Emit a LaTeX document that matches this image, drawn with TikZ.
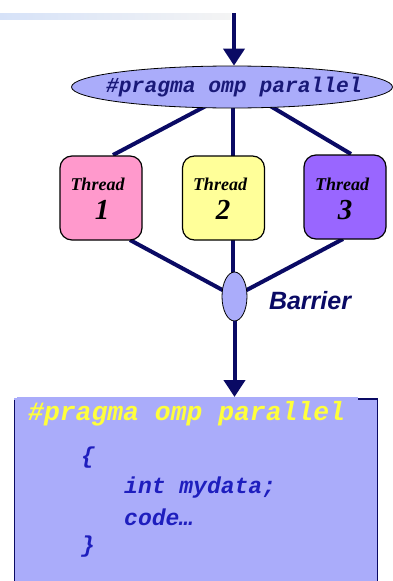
\documentclass[tikz,border=0pt]{standalone}
\usepackage{fontspec}
\setmainfont{Liberation Serif}
\newfontfamily\codefont{Liberation Mono}
\newfontfamily\labelfont{Liberation Sans}
\usetikzlibrary{shapes.geometric,arrows.meta,backgrounds}
\definecolor{navy}{RGB}{10,10,100}
\definecolor{lav}{RGB}{170,172,250}
\definecolor{pinkf}{RGB}{255,153,204}
\definecolor{yelf}{RGB}{255,255,153}
\definecolor{purf}{RGB}{153,102,255}
\definecolor{codeblue}{RGB}{30,30,190}
\definecolor{ptext}{RGB}{25,25,120}
\definecolor{titleyel}{RGB}{255,255,60}
\definecolor{barL}{RGB}{214,226,248}
\definecolor{barR}{RGB}{244,244,244}
\tikzset{
  conn/.style={draw=navy,line width=4pt},
  arr/.style={conn,-{Triangle[width=21pt,length=17pt]}},
  threadbox/.style={draw=black,line width=1.2pt,rounded corners=12pt,minimum width=82pt,minimum height=84pt,inner sep=0pt},
  threadword/.style={font=\fontsize{18}{20}\selectfont\bfseries\itshape},
  threadnum/.style={font=\fontsize{29}{30}\selectfont\bfseries\itshape},
  codeline/.style={anchor=west,inner sep=0pt,text=codeblue,font=\fontsize{23}{25}\codefont\bfseries\itshape},
}
\begin{document}
\begin{tikzpicture}[x=1pt,y=-1pt]
\clip (0,0) rectangle (393,581);
% top gradient bar
\shade[left color=barL,right color=barR] (0,13) rectangle (231,19);
% nodes
\coordinate (start) at (234,13);
\node[ellipse,draw=black,line width=0.8pt,fill=lav,minimum width=321pt,minimum height=42pt,inner sep=0pt] (par) at (232,87) {};
\node[text=ptext,font=\fontsize{21.3}{24}\codefont\bfseries\itshape,inner sep=0pt] (partext) at (234,87) {\#pragma omp parallel};
\coordinate (hubtop) at (240,88);
\node[threadbox,fill=pinkf] (t1) at (101,198) {};
\node[threadbox,fill=yelf] (t2) at (223.5,198) {};
\node[threadbox,fill=purf] (t3) at (345,197) {};
\node[threadword] (t1w) at (97.5,184) {Thread};
\node[threadnum] (t1n) at (102,210) {1};
\node[threadword] (t2w) at (220,184) {Thread};
\node[threadnum] (t2n) at (223,210) {2};
\node[threadword] (t3w) at (342,184) {Thread};
\node[threadnum] (t3n) at (345,210) {3};
\node[ellipse,draw=black,line width=0.8pt,fill=lav,minimum width=25pt,minimum height=49pt,inner sep=0pt] (bar) at (234.5,296.5) {};
\node[text=navy,font=\fontsize{25}{27}\labelfont\bfseries\itshape,inner sep=0pt] (bartext) at (310,301) {Barrier};
\coordinate (t1top) at (113,155);
\coordinate (t3top) at (351,154);
\coordinate (t1bot) at (130,240);
\coordinate (t3bot) at (343,239);
\coordinate (mid) at (233,88);
\coordinate (midb) at (233,296);
% box
\fill[lav] (14,398) rectangle (378,590);
\fill[lav] (17,396.5) rectangle (358,399);
\draw[navy,line width=1.5pt] (14.5,400) -- (14.5,590);
\draw[navy,line width=1.5pt] (358,399) -- (377.5,399) -- (377.5,590);
\coordinate (boxtop) at (234.5,397);
\node[anchor=west,inner sep=0pt,text=titleyel,font=\fontsize{26.4}{28}\codefont\bfseries\itshape] (title) at (28,414) {\#pragma omp parallel};
\node[codeline] (c1) at (81,458) {\{};
\node[codeline] (c2) at (124,488) {int mydata;};
\node[codeline] (c3) at (124,517) {code…};
\node[codeline] (c4) at (81,547) {\}};
% connectors
\begin{scope}[on background layer]
\draw[conn] (hubtop) -- (t1top);
\draw[conn] (hubtop) -- (t3top);
\draw[conn] (mid) -- (midb);
\draw[conn] (t1bot) -- (bar.center);
\draw[conn] (t3bot) -- (bar.center);
\end{scope}
\draw[arr] (start) -- (par.north -| start);
\draw[arr] (bar.south) -- (boxtop);
\end{tikzpicture}
\end{document}
